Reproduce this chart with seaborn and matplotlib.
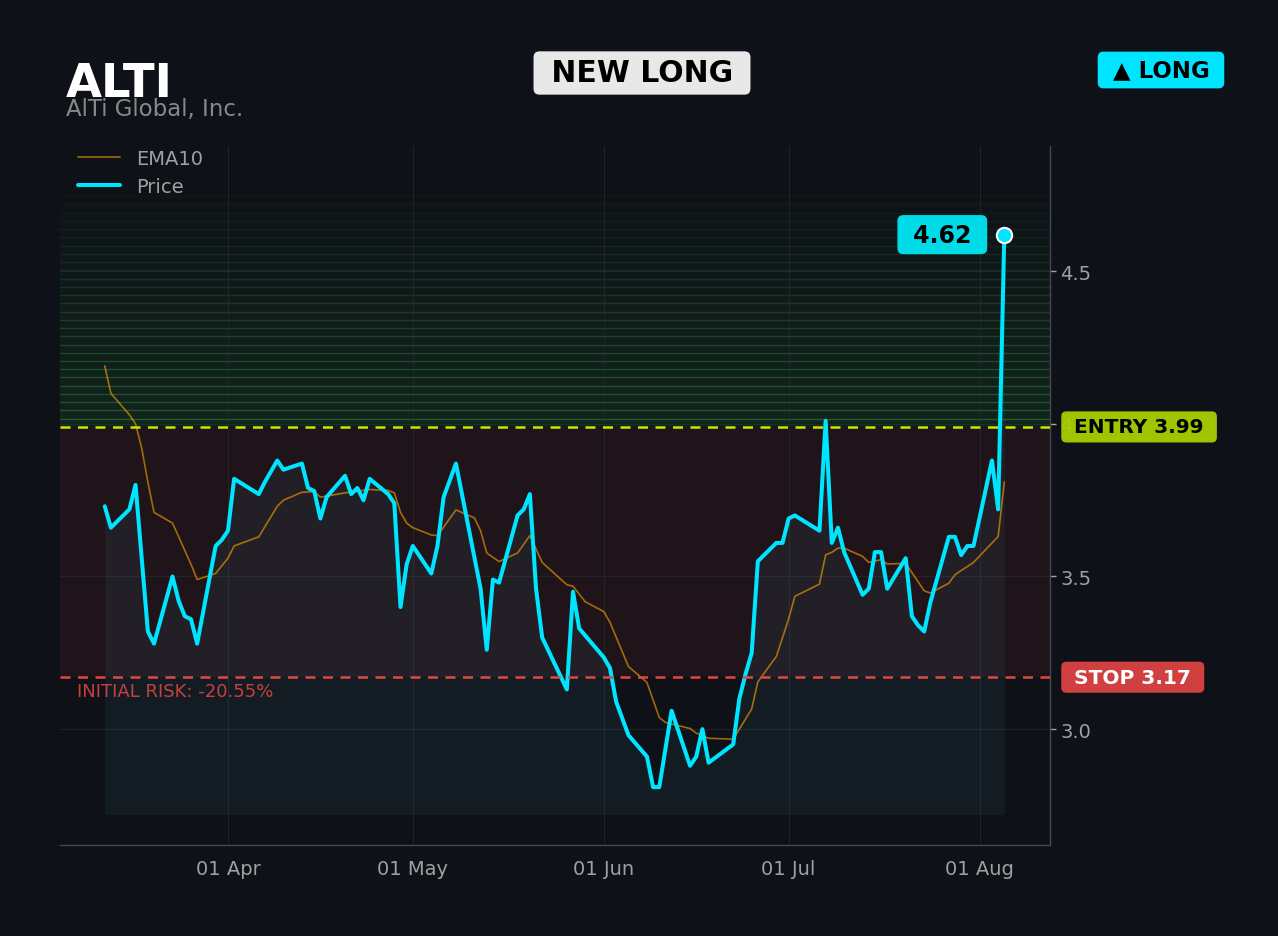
import numpy as np
import pandas as pd
import matplotlib
matplotlib.use("Agg")
import matplotlib.pyplot as plt
import matplotlib.dates as mdates
import seaborn as sns

# price vertices
price_dates = ["2026-03-12", "2026-03-13", "2026-03-16", "2026-03-17", "2026-03-19", "2026-03-20",
               "2026-03-23", "2026-03-24", "2026-03-25", "2026-03-26", "2026-03-27", "2026-03-30",
               "2026-03-31", "2026-04-01", "2026-04-02", "2026-04-06", "2026-04-07", "2026-04-09",
               "2026-04-10", "2026-04-13", "2026-04-14", "2026-04-15", "2026-04-16", "2026-04-17",
               "2026-04-20", "2026-04-21", "2026-04-22", "2026-04-23", "2026-04-24", "2026-04-27",
               "2026-04-28", "2026-04-29", "2026-04-30", "2026-05-01", "2026-05-04", "2026-05-05",
               "2026-05-06", "2026-05-08", "2026-05-12", "2026-05-13", "2026-05-14", "2026-05-15",
               "2026-05-18", "2026-05-19", "2026-05-20", "2026-05-21", "2026-05-22", "2026-05-26",
               "2026-05-27", "2026-05-28", "2026-06-01", "2026-06-02", "2026-06-03", "2026-06-05",
               "2026-06-08", "2026-06-09", "2026-06-10", "2026-06-12", "2026-06-15", "2026-06-16",
               "2026-06-17", "2026-06-18", "2026-06-22", "2026-06-23", "2026-06-24", "2026-06-25",
               "2026-06-26", "2026-06-29", "2026-06-30", "2026-07-01", "2026-07-02", "2026-07-06",
               "2026-07-07", "2026-07-08", "2026-07-09", "2026-07-10", "2026-07-13", "2026-07-14",
               "2026-07-15", "2026-07-16", "2026-07-17", "2026-07-20", "2026-07-21", "2026-07-22",
               "2026-07-23", "2026-07-24", "2026-07-27", "2026-07-28", "2026-07-29", "2026-07-30",
               "2026-07-31", "2026-08-03", "2026-08-04", "2026-08-05"]
price = [3.73, 3.66, 3.72, 3.80, 3.32, 3.28,
         3.50, 3.42, 3.37, 3.36, 3.28, 3.60,
         3.62, 3.65, 3.82, 3.77, 3.81, 3.88,
         3.85, 3.87, 3.79, 3.78, 3.69, 3.76,
         3.83, 3.77, 3.79, 3.75, 3.82, 3.77,
         3.74, 3.40, 3.54, 3.60, 3.51, 3.60,
         3.76, 3.87, 3.46, 3.26, 3.49, 3.48,
         3.70, 3.72, 3.77, 3.46, 3.30, 3.13,
         3.45, 3.33, 3.235, 3.20, 3.09, 2.98,
         2.91, 2.81, 2.81, 3.06, 2.88, 2.91,
         3.00, 2.89, 2.95, 3.10, 3.18, 3.25,
         3.55, 3.61, 3.61, 3.69, 3.70, 3.65,
         4.01, 3.61, 3.66, 3.58, 3.44, 3.46,
         3.58, 3.58, 3.46, 3.56, 3.37, 3.34,
         3.32, 3.415, 3.63, 3.63, 3.57, 3.60,
         3.60, 3.88, 3.72, 4.62]

ema_dates = ["2026-03-12", "2026-03-13", "2026-03-16", "2026-03-17", "2026-03-18", "2026-03-19",
             "2026-03-20", "2026-03-23", "2026-03-26", "2026-03-27", "2026-03-30", "2026-04-01",
             "2026-04-02", "2026-04-06", "2026-04-09", "2026-04-10", "2026-04-13", "2026-04-15",
             "2026-04-16", "2026-04-20", "2026-04-24", "2026-04-27", "2026-04-28", "2026-04-29",
             "2026-04-30", "2026-05-01", "2026-05-04", "2026-05-05", "2026-05-08", "2026-05-11",
             "2026-05-12", "2026-05-13", "2026-05-15", "2026-05-18", "2026-05-20", "2026-05-22",
             "2026-05-26", "2026-05-27", "2026-05-29", "2026-06-01", "2026-06-02", "2026-06-05",
             "2026-06-08", "2026-06-10", "2026-06-11", "2026-06-15", "2026-06-16", "2026-06-18",
             "2026-06-22", "2026-06-23", "2026-06-25", "2026-06-26", "2026-06-29", "2026-07-01",
             "2026-07-02", "2026-07-06", "2026-07-07", "2026-07-08", "2026-07-09", "2026-07-10",
             "2026-07-13", "2026-07-14", "2026-07-16", "2026-07-17", "2026-07-20", "2026-07-23",
             "2026-07-24", "2026-07-27", "2026-07-28", "2026-07-31", "2026-08-04", "2026-08-05"]
ema10 = [4.19, 4.10, 4.03, 4.00, 3.92, 3.81,
         3.71, 3.675, 3.54, 3.49, 3.51, 3.56,
         3.60, 3.63, 3.73, 3.75, 3.776, 3.778,
         3.76, 3.774, 3.785, 3.782, 3.774, 3.71,
         3.675, 3.66, 3.636, 3.634, 3.718, 3.692,
         3.65, 3.577, 3.549, 3.577, 3.634, 3.546,
         3.473, 3.468, 3.417, 3.385, 3.35, 3.205,
         3.153, 3.038, 3.022, 3.002, 2.987, 2.97,
         2.967, 3.0, 3.066, 3.155, 3.238, 3.361,
         3.435, 3.475, 3.571, 3.579, 3.593, 3.593,
         3.566, 3.546, 3.555, 3.541, 3.543, 3.453,
         3.446, 3.478, 3.506, 3.546, 3.631, 3.81]

ticker = "ALTI"
company = "AlTi Global, Inc."
entry = 3.99
stop = 3.17
target = 4.80
risk_text = "INITIAL RISK: -20.55%"

bg = "#0e1117"
cyan = "#00e5ff"
grey = "#a0a0a0"

df = pd.DataFrame({"date": pd.to_datetime(price_dates), "price": price})
ema_df = pd.DataFrame({"date": pd.to_datetime(ema_dates), "ema": ema10})

sns.set_style("dark")
plt.rcParams['font.family'] = ['DejaVu Sans']

fig = plt.figure(figsize=(12.78, 9.37), dpi=100, facecolor=bg)
ax = fig.add_axes([0.047, 0.097, 0.7746, 0.746])
ax.set_facecolor(bg)

# zones
n_bands = 30
levels = np.linspace(entry, target, n_bands + 1)
for i in range(n_bands):
    a = 0.13 * (1 - i / n_bands)
    ax.axhspan(levels[i], levels[i + 1], color="#2ea043", alpha=a, lw=0, zorder=0)
    ax.axhline(levels[i + 1], color="#2ea043", alpha=0.45 * (1 - i / n_bands), lw=1.0, zorder=0.5)
ax.axhspan(stop, entry, color="#e04040", alpha=0.08, lw=0, zorder=0)

ax.fill_between(df["date"], df["price"], 2.72, color="#6fd6e8", alpha=0.06, lw=0, zorder=1)

sns.lineplot(data=ema_df, x="date", y="ema", ax=ax, color="#ffa500", alpha=0.6, lw=1.2,
             label="EMA10", zorder=3)
sns.lineplot(data=df, x="date", y="price", ax=ax, color=cyan, lw=2.9, label="Price", zorder=4)

ax.axhline(entry, color="#c8e600", ls=(0, (4, 3)), lw=1.8, zorder=5)
ax.axhline(stop, color="#e04848", ls=(0, (4, 3)), lw=1.8, zorder=5)

# last price marker + label
last_date = df["date"].iloc[-1]
last_price = df["price"].iloc[-1]
ax.plot([last_date], [last_price], "o", ms=11, color=cyan, mec="white", mew=1.5, zorder=6)
ax.annotate(f" {last_price:.2f} ", xy=(last_date, last_price), xytext=(-62, 0),
            textcoords="offset pixels", ha="center", va="center", fontsize=17, fontweight="bold",
            color="black", bbox=dict(boxstyle="round,pad=0.32,rounding_size=0.25", fc="#00dbe8", ec="none"),
            zorder=7)

ax.text(0.017, stop - 0.015, risk_text, transform=ax.get_yaxis_transform(), color="#c84040",
        fontsize=13, va="top", ha="left")

ax.text(1.0175, entry, f" ENTRY {entry:.2f} ", transform=ax.get_yaxis_transform(), color="black",
        fontsize=14.5, fontweight="bold", va="center", ha="left", clip_on=False, zorder=8,
        bbox=dict(boxstyle="round,pad=0.3,rounding_size=0.25", fc="#a8d000", ec="none", alpha=0.95))
ax.text(1.0175, stop, f" STOP {stop:.2f} ", transform=ax.get_yaxis_transform(), color="white",
        fontsize=14.5, fontweight="bold", va="center", ha="left", clip_on=False, zorder=8,
        bbox=dict(boxstyle="round,pad=0.3,rounding_size=0.25", fc="#d04040", ec="none"))

# axes styling
ax.set_ylim(2.62, 4.91)
ax.set_xlim(pd.Timestamp("2026-03-04 18:00"), pd.Timestamp("2026-08-12 10:00"))
ax.yaxis.tick_right()
ax.set_yticks([3.0, 3.5, 4.0, 4.5])
ax.set_yticklabels(["3.0", "3.5", "4", "4.5"])
ax.xaxis.set_major_locator(mdates.MonthLocator(bymonth=[4, 5, 6, 7, 8]))
ax.xaxis.set_major_formatter(mdates.DateFormatter("%d %b"))
ax.tick_params(axis="both", colors=grey, labelsize=14, length=4, width=1)
ax.tick_params(axis="x", pad=6)
ax.grid(True, color="#2a2e36", lw=0.8, alpha=0.6)
ax.set_xlabel("")
ax.set_ylabel("")
for s in ["top", "left"]:
    ax.spines[s].set_visible(False)
for s in ["bottom", "right"]:
    ax.spines[s].set_visible(True)
    ax.spines[s].set_color("#444850")
    ax.spines[s].set_linewidth(1)

leg = ax.legend(loc="upper left", frameon=False, fontsize=14, labelcolor=grey,
                bbox_to_anchor=(0.004, 1.016), borderaxespad=0.3, handlelength=2.2,
                handletextpad=0.8, labelspacing=0.5)

# header
fig.text(66 / 1278, 1 - 97 / 937, ticker, color="white", fontsize=33.5, fontweight="bold",
         ha="left", va="baseline")
fig.text(66 / 1278, 1 - 116 / 937, company, color="#888888", fontsize=16.5, ha="left", va="baseline")
fig.text(642 / 1278, 1 - 74 / 937, " NEW LONG ", color="black", fontsize=21.5, fontweight="bold",
         ha="center", va="center",
         bbox=dict(boxstyle="round,pad=0.24,rounding_size=0.2", fc="#e8e8e8", ec="none"))
fig.text(1161 / 1278, 1 - 71 / 937, " ▲ LONG ", color="black", fontsize=16.5, fontweight="bold",
         ha="center", va="center",
         bbox=dict(boxstyle="round,pad=0.3,rounding_size=0.25", fc=cyan, ec="none"))

plt.savefig("out.png", dpi=100, facecolor=bg)
